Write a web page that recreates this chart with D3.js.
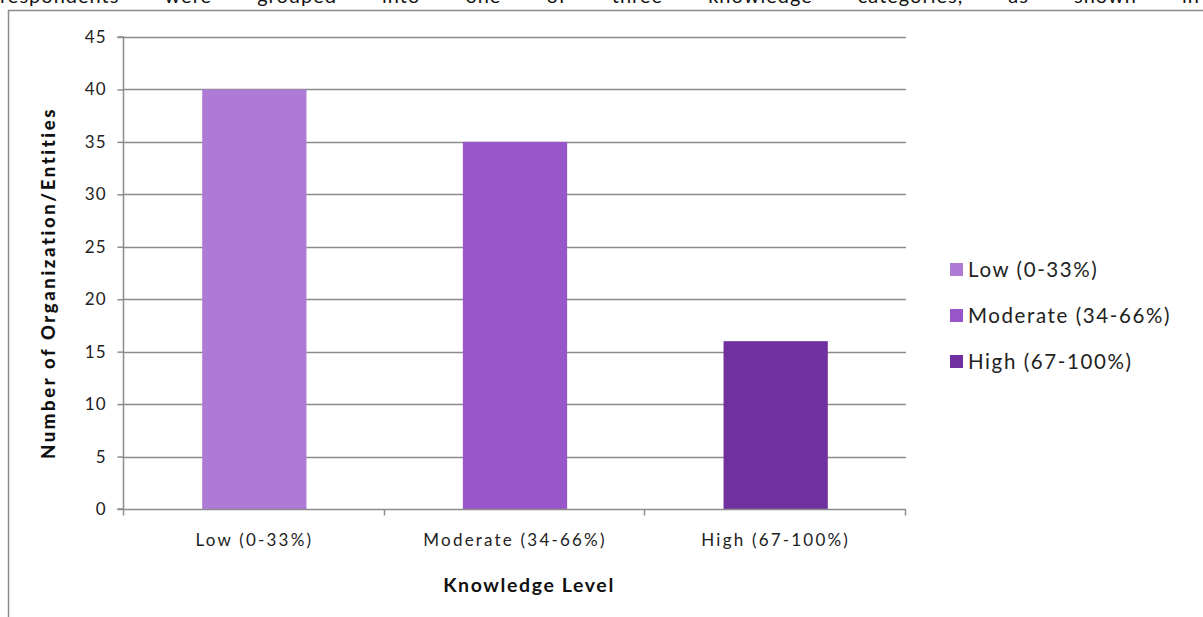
<!DOCTYPE html>
<html>
<head>
<meta charset="utf-8">
<script src="https://cdn.jsdelivr.net/npm/d3@7"></script>
<style>
  html, body { margin: 0; padding: 0; background: #fff; }
  svg { display: block; font-family: Lato, "Open Sans", sans-serif; }
</style>
</head>
<body>
<svg id="chart" width="1203" height="617"></svg>
<script>
// Knowledge levels and number of organizations/entities in each
const categories = ["Low (0-33%)", "Moderate (34-66%)", "High (67-100%)"];
const counts = [40, 35, 16];
const colors = ["#ad7ad5", "#9955ca", "#7030a0"];
const yTicks = [0, 5, 10, 15, 20, 25, 30, 35, 40, 45];
const runningText = "respondents were grouped into one of three knowledge categories, as shown in";

const svg = d3.select("#chart");
const W = 1203, H = 617;
const plot = { left: 124, right: 906, top: 37, bottom: 509 };
const axisColor = "#8c8c8c";

// Text line from the surrounding document, justified across the page
const words = runningText.split(" ");
const wordNodes = svg.append("g").selectAll("text").data(words).join("text")
  .attr("y", 3)
  .attr("font-size", 20)
  .attr("letter-spacing", 1)
  .attr("fill", "#111")
  .text(d => d);
const widths = wordNodes.nodes().map(n => n.getComputedTextLength());
const gap = (1200 - d3.sum(widths)) / (words.length - 1);
let cx = 0;
wordNodes.attr("x", (d, i) => { const x0 = cx; cx += widths[i] + gap; return x0; });

// Frame around the chart object
svg.append("path")
  .attr("d", `M8.5,${H} V10.5 H${W}`)
  .attr("fill", "none")
  .attr("stroke", "#8a8a8a")
  .attr("stroke-width", 1.5);

const x = d3.scaleBand().domain(categories).range([plot.left, plot.right]).paddingInner(0.6).paddingOuter(0.3);
const y = d3.scaleLinear().domain([0, 45]).range([plot.bottom, plot.top]);

// Horizontal gridlines
svg.append("g").selectAll("line").data(yTicks.filter(t => t > 0)).join("line")
  .attr("x1", plot.left).attr("x2", plot.right)
  .attr("y1", d => Math.round(y(d)) + 0.5).attr("y2", d => Math.round(y(d)) + 0.5)
  .attr("stroke", axisColor).attr("stroke-width", 1.5);

// Bars
svg.append("g").selectAll("rect").data(counts).join("rect")
  .attr("x", (d, i) => x(categories[i]))
  .attr("width", x.bandwidth())
  .attr("y", d => y(d))
  .attr("height", d => y(0) - y(d))
  .attr("fill", (d, i) => colors[i]);

// Y axis
const yAxis = d3.axisLeft(y).tickValues(yTicks).tickSize(6).tickPadding(11);
const yg = svg.append("g").attr("transform", `translate(${plot.left - 0.5},0)`).call(yAxis);
yg.select(".domain").attr("stroke", axisColor).attr("stroke-width", 1.5).attr("d", `M-6,${plot.top}H0V${plot.bottom}H-6`);
yg.selectAll(".tick line").attr("stroke", axisColor).attr("stroke-width", 1.5);
yg.selectAll(".tick text")
  .attr("font-size", 17).attr("letter-spacing", 1).attr("fill", "#222")
  .attr("font-family", "Lato, sans-serif");

// X axis with tick marks on category boundaries
const xAxis = d3.axisBottom(x).tickSize(0).tickPadding(24);
const xg = svg.append("g").attr("transform", `translate(0,${plot.bottom + 0.5})`).call(xAxis);
xg.select(".domain").attr("stroke", axisColor).attr("stroke-width", 1.5).attr("d", `M${plot.left},0H${plot.right}`);
xg.selectAll(".tick text")
  .attr("font-size", 17).attr("letter-spacing", 2.2).attr("fill", "#222")
  .attr("font-family", "Lato, sans-serif");
const boundaries = d3.range(categories.length + 1).map(i => plot.left + i * (plot.right - plot.left) / categories.length);
xg.append("g").selectAll("line").data(boundaries).join("line")
  .attr("x1", d => Math.round(d) - 0.5).attr("x2", d => Math.round(d) - 0.5)
  .attr("y1", 0).attr("y2", 6)
  .attr("stroke", axisColor).attr("stroke-width", 1.5);

// Axis titles
svg.append("text")
  .attr("transform", `translate(55,${(plot.top + plot.bottom) / 2 + 10}) rotate(-90)`)
  .attr("text-anchor", "middle")
  .attr("font-size", 18.5).attr("font-weight", "900").attr("letter-spacing", 2.6).attr("fill", "#111")
  .text("Number of Organization/Entities");

svg.append("text")
  .attr("x", (plot.left + plot.right) / 2 + 14).attr("y", 592)
  .attr("text-anchor", "middle")
  .attr("font-size", 19.5).attr("font-weight", "bold").attr("letter-spacing", 1.6).attr("fill", "#111")
  .text("Knowledge Level");

// Legend
const legend = svg.append("g").attr("transform", "translate(950,270)");
const items = legend.selectAll("g").data(categories).join("g")
  .attr("transform", (d, i) => `translate(0,${i * 46})`);
items.append("rect").attr("x", 0).attr("y", -7).attr("width", 13).attr("height", 13)
  .attr("fill", (d, i) => colors[i]);
items.append("text").attr("x", 18).attr("y", 7)
  .attr("font-size", 20.5).attr("letter-spacing", 1.6).attr("fill", "#222")
  .text(d => d);
</script>
</body>
</html>
